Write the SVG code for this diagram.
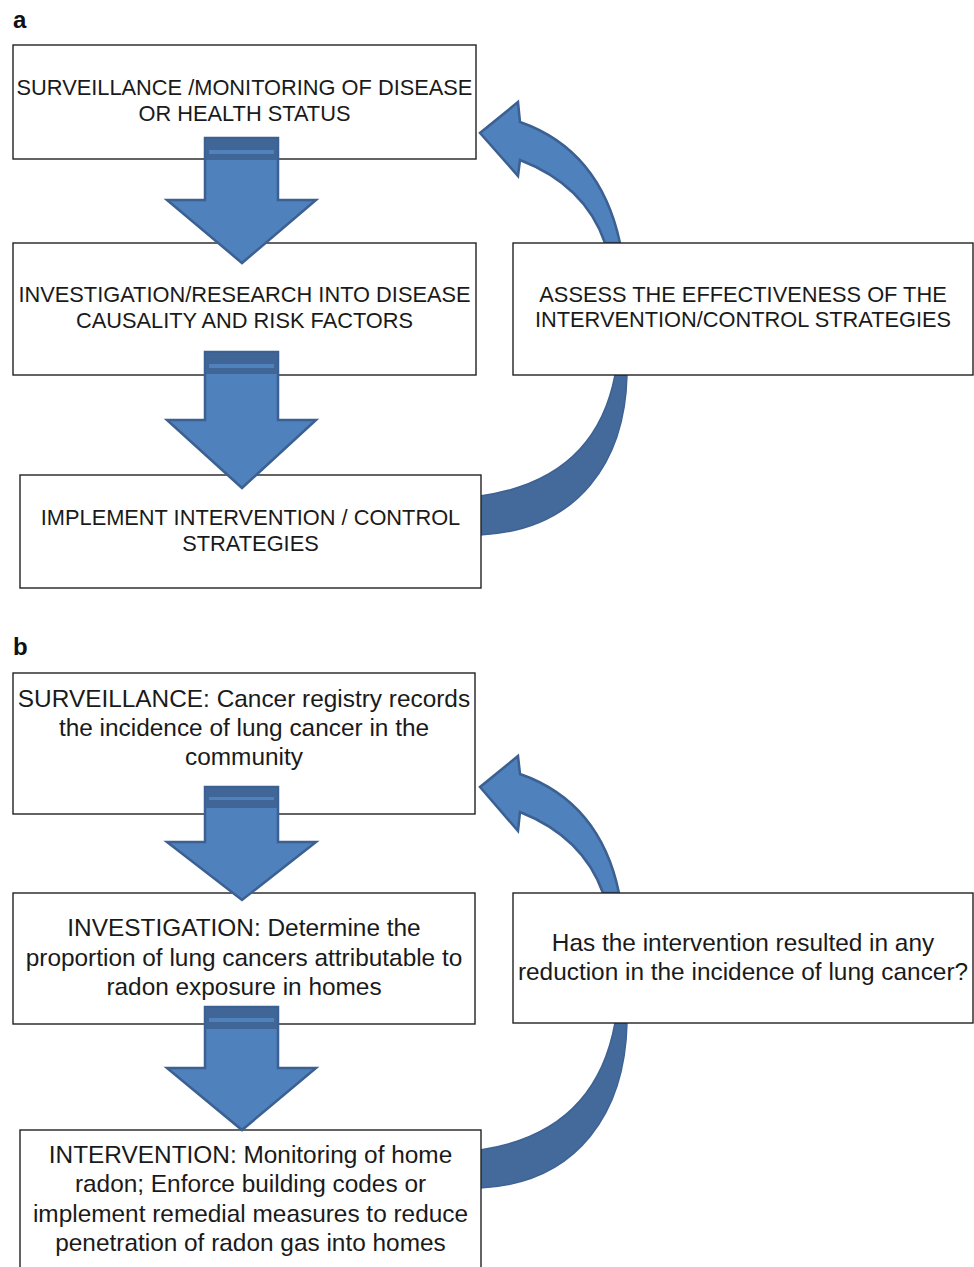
<svg xmlns="http://www.w3.org/2000/svg" width="974" height="1267" viewBox="0 0 974 1267">
  <defs>
    <style>
      .box { fill: #ffffff; stroke: #222222; stroke-width: 1.4; }
      .ta { font-family: "Liberation Sans", Arial, sans-serif; font-size: 21.8px; fill: #1a1a1a; text-anchor: middle; }
      .tb { font-family: "Liberation Sans", Arial, sans-serif; font-size: 24.4px; fill: #1a1a1a; text-anchor: middle; }
      .lbl { font-family: "Liberation Sans", Arial, sans-serif; font-size: 24px; font-weight: bold; fill: #111111; }
      .down { fill: #4F81BD; stroke: #3B6091; stroke-width: 2.5; stroke-linejoin: miter; }
      .cap { fill: #3F6697; }
      .stripe { fill: #4F81BD; }
      .bend { fill: #4F81BD; stroke: #3B6091; stroke-width: 2.5; stroke-linejoin: miter; }
      .back { fill: #44699B; stroke: #3D6293; stroke-width: 1.5; }
    </style>
  </defs>

  <rect width="974" height="1267" fill="#ffffff"/>

  <!-- panel labels -->
  <text class="lbl" x="13" y="28">a</text>
  <text class="lbl" x="13" y="655">b</text>

  <!-- curved feedback arrows (drawn first, boxes sit over their ends) -->
  <g id="connectors">
    <!-- panel a: back part from the assessment box down to the implementation box -->
    <path class="back" d="M615,375 L627,375 C625,460 580,530 480,535 L480,496 Q595,480 615,375 Z"/>
    <!-- panel a: front part with head pointing at the surveillance box -->
    <path class="bend" d="M605,243 Q585,185 520,160 L518,176 L480,133 L518,102 L520,122 Q600,150 620,243 Z"/>
    <!-- panel b: back part -->
    <path class="back" d="M615,1023 L627,1023 C625,1110 580,1183 480,1188 L480,1150 Q595,1133 615,1023 Z"/>
    <!-- panel b: front part -->
    <path class="bend" d="M603,893 Q583,837 520,812 L518,831 L480,787 L518,756 L520,774 Q600,802 619,893 Z"/>
  </g>

  <!-- panel a nodes -->
  <g id="a-surveillance">
    <rect class="box" x="13" y="45" width="463" height="114"/>
    <text class="ta" x="244.5" y="95">SURVEILLANCE /MONITORING OF DISEASE</text>
    <text class="ta" x="244.5" y="121">OR HEALTH STATUS</text>
  </g>
  <g id="a-investigation">
    <rect class="box" x="13" y="243" width="463" height="132"/>
    <text class="ta" x="244.5" y="302">INVESTIGATION/RESEARCH INTO DISEASE</text>
    <text class="ta" x="244.5" y="328">CAUSALITY AND RISK FACTORS</text>
  </g>
  <g id="a-implement">
    <rect class="box" x="20" y="475" width="461" height="113"/>
    <text class="ta" x="250.5" y="525">IMPLEMENT INTERVENTION / CONTROL</text>
    <text class="ta" x="250.5" y="551">STRATEGIES</text>
  </g>
  <g id="a-assess">
    <rect class="box" x="513" y="243" width="460" height="132"/>
    <text class="ta" x="743" y="302">ASSESS THE EFFECTIVENESS OF THE</text>
    <text class="ta" x="743" y="327">INTERVENTION/CONTROL STRATEGIES</text>
  </g>

  <!-- panel b nodes -->
  <g id="b-surveillance">
    <rect class="box" x="13" y="673" width="462" height="141"/>
    <text class="tb" x="244" y="707">SURVEILLANCE: Cancer registry records</text>
    <text class="tb" x="244" y="736">the incidence of lung cancer in the</text>
    <text class="tb" x="244" y="765">community</text>
  </g>
  <g id="b-investigation">
    <rect class="box" x="13" y="893" width="462" height="131"/>
    <text class="tb" x="244" y="936">INVESTIGATION: Determine the</text>
    <text class="tb" x="244" y="966">proportion of lung cancers attributable to</text>
    <text class="tb" x="244" y="995">radon exposure in homes</text>
  </g>
  <g id="b-intervention">
    <rect class="box" x="20" y="1130" width="461" height="150"/>
    <text class="tb" x="250.5" y="1163">INTERVENTION: Monitoring of home</text>
    <text class="tb" x="250.5" y="1192">radon; Enforce building codes or</text>
    <text class="tb" x="250.5" y="1222">implement remedial measures to reduce</text>
    <text class="tb" x="250.5" y="1251">penetration of radon gas into homes</text>
  </g>
  <g id="b-assess">
    <rect class="box" x="513" y="893" width="460" height="130"/>
    <text class="tb" x="743" y="951">Has the intervention resulted in any</text>
    <text class="tb" x="743" y="980">reduction in the incidence of lung cancer?</text>
  </g>

  <!-- block down arrows between stacked steps -->
  <g id="down-arrows">
    <g id="a-down-1">
      <path class="down" d="M205,138 L278,138 L278,200 L316,200 L242,263 L167,200 L205,200 Z"/>
      <rect class="cap" x="206" y="139" width="71" height="21"/>
      <rect class="stripe" x="209" y="150" width="65" height="4"/>
    </g>
    <g id="a-down-2">
      <path class="down" d="M205,352 L278,352 L278,420 L316,420 L242,488 L167,420 L205,420 Z"/>
      <rect class="cap" x="206" y="353" width="71" height="21"/>
      <rect class="stripe" x="209" y="364" width="65" height="4"/>
    </g>
    <g id="b-down-1">
      <path class="down" d="M205,787 L278,787 L278,842 L316,842 L242,900 L167,842 L205,842 Z"/>
      <rect class="cap" x="206" y="788" width="71" height="20"/>
      <rect class="stripe" x="209" y="797" width="65" height="3"/>
    </g>
    <g id="b-down-2">
      <path class="down" d="M205,1007 L278,1007 L278,1068 L316,1068 L242,1130 L167,1068 L205,1068 Z"/>
      <rect class="cap" x="206" y="1008" width="71" height="21"/>
      <rect class="stripe" x="209" y="1018" width="65" height="4"/>
    </g>
  </g>
</svg>
